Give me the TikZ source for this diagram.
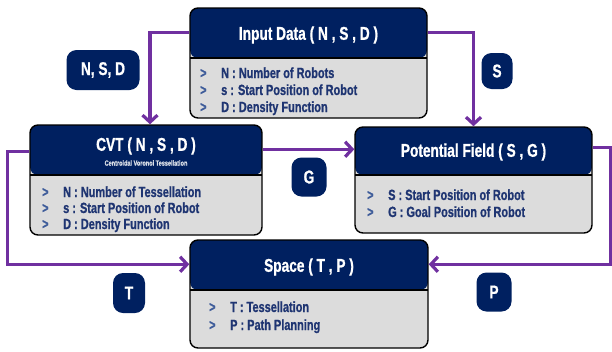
\documentclass[tikz,border=0pt]{standalone}
\usepackage{fontspec}
\setmainfont{Liberation Sans}
\newfontfamily\cond[FakeStretch=0.74,FakeBold=0.9]{Liberation Sans Bold}
\usetikzlibrary{arrows.meta,calc}
\definecolor{navy}{HTML}{002060}
\definecolor{bodygray}{HTML}{DCDCDC}
\definecolor{flow}{HTML}{7030A0}
\definecolor{itemblue}{HTML}{1F3572}
\definecolor{chevron}{HTML}{3E5C9A}
\newcommand\chev{\makebox[21pt][l]{\textcolor{chevron}{>}}}
\tikzset{
  stagebox/.style={draw=black, line width=1.4pt, rounded corners=8pt,
    fill=bodygray, inner sep=0pt,
    path picture={
      \fill[navy] (path picture bounding box.north west)
        rectangle ([yshift=-#1]path picture bounding box.north east);
      \draw[black, line width=1.4pt]
        ([yshift=-#1]path picture bounding box.north west)
        -- ([yshift=-#1]path picture bounding box.north east);}},
  stagebox/.default=50pt,
  headtext/.style={text=white, inner sep=0pt,
    font=\cond\fontsize{18.5}{20}\selectfont},
  subtext/.style={text=white!85!navy, inner sep=0pt,
    font=\cond\fontsize{7.5}{8}\selectfont},
  item/.style={text=itemblue, anchor=base west, inner sep=0pt,
    font=\cond\fontsize{14.8}{16}\selectfont},
  badge/.style={fill=navy, rounded corners=10pt, text=white, inner sep=0pt,
    font=\cond\fontsize{18.5}{20}\selectfont},
  flowarrow/.style={draw=flow, line width=3.2pt,
    -{Straight Barb[length=7pt,width=15pt]}},
}
\begin{document}
\begin{tikzpicture}[x=1pt,y=-1pt]
\useasboundingbox (0,0) rectangle (612,351);

% stages
\node[stagebox, minimum width=237pt, minimum height=110pt] (in) at (308.5,63) {};
\node[stagebox, minimum width=232pt, minimum height=110pt] (cvt) at (146,180) {};
\node[stagebox=48pt, minimum width=237pt, minimum height=106pt] (pf) at (473.5,180) {};
\node[stagebox, minimum width=238pt, minimum height=108pt] (sp) at (309,294) {};

% headers
\node[headtext] (inH) at (308.5,35) {Input Data ( N , S , D )};
\node[headtext] (cvtH) at (146,146) {CVT ( N , S , D )};
\node[subtext] (cvtS) at (146,163) {Centroidal Voronoi Tessellation};
\node[headtext] (pfH) at (473.5,152) {Potential Field ( S , G )};
\node[headtext] (spH) at (309,267) {Space ( T , P )};

% items
\node[item] (in1) at (200,78) {\chev N : Number of Robots};
\node[item] (in2) at (200,95) {\chev s : Start Position of Robot};
\node[item] (in3) at (200,112) {\chev D : Density Function};

\node[item] (cvt1) at (42,197) {\chev N : Number of Tessellation};
\node[item] (cvt2) at (42,213) {\chev s : Start Position of Robot};
\node[item] (cvt3) at (42,229) {\chev D : Density Function};

\node[item] (pf1) at (367,200) {\chev S : Start Position of Robot};
\node[item] (pf2) at (367,217) {\chev G : Goal Position of Robot};

\node[item] (sp1) at (209,312) {\chev T : Tessellation};
\node[item] (sp2) at (209,330) {\chev P : Path Planning};

% connectors
\draw[flowarrow] ([yshift=-25pt]in.north west) -| ([xshift=4pt]cvt.north);
\draw[flowarrow] ([yshift=-25pt]in.north east) -| (pf.north);
\draw[flowarrow] ([yshift=-25pt]cvt.north east) -- ([yshift=-25pt]cvt.north east -| pf.west);
\draw[flowarrow] ([yshift=-27pt]cvt.north west) -- ++(-22,0) |- ([yshift=-25pt]sp.north west);
\draw[flowarrow] ([yshift=-21pt]pf.north east) -- ++(18,0) |- ([yshift=-25pt]sp.north east);

% labels
\node[badge, minimum width=73pt, minimum height=40pt] (bNSD) at (103,70) {N, S, D};
\node[badge, minimum width=31pt, minimum height=36pt] (bS) at (497,71) {S};
\node[badge, minimum width=35pt, minimum height=39pt] (bG) at (309,177) {G};
\node[badge, minimum width=32pt, minimum height=40pt] (bT) at (129,293) {T};
\node[badge, minimum width=35pt, minimum height=39pt] (bP) at (494,292) {P};
\end{tikzpicture}
\end{document}
